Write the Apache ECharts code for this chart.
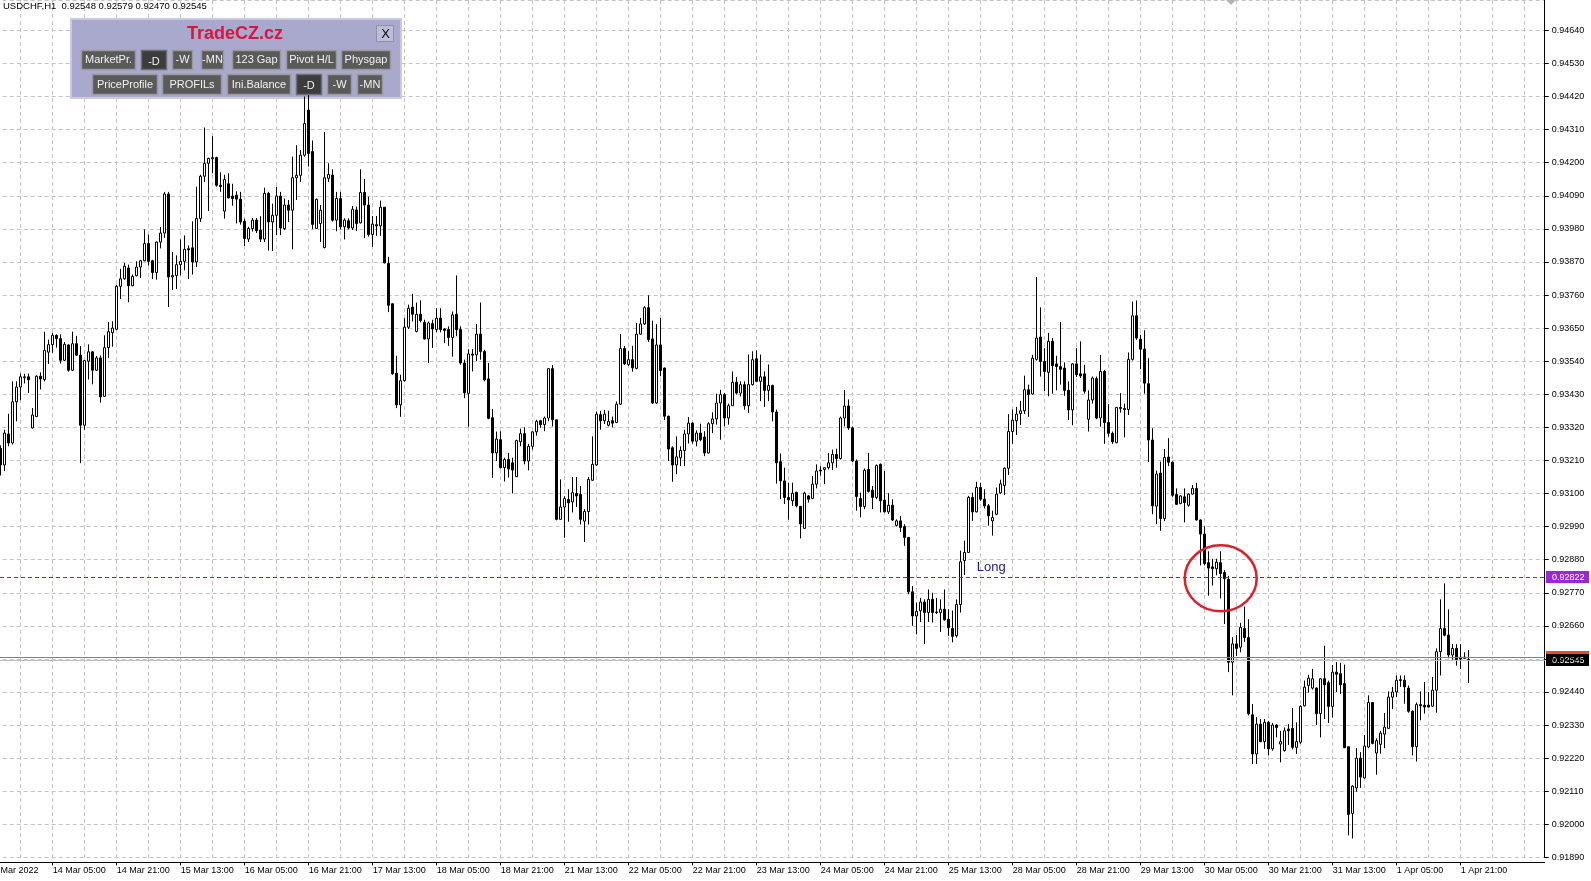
<!DOCTYPE html>
<html>
<head>
<meta charset="utf-8">
<title>USDCHF,H1</title>
<script src="https://cdn.jsdelivr.net/npm/echarts@6/dist/echarts.min.js"></script>
<style>
  html, body { margin: 0; padding: 0; background: #fff; }
  #chart { width: 1591px; height: 881px; }
</style>
</head>
<body>
<div id="chart"></div>
<script>
const FONT = '"Liberation Sans", Arial, sans-serif'

// trading days on screen, the first one starts at 13:00
const days = ['11 Mar', '14 Mar', '15 Mar', '16 Mar', '17 Mar', '18 Mar', '21 Mar', '22 Mar',
  '23 Mar', '24 Mar', '25 Mar', '28 Mar', '29 Mar', '30 Mar', '31 Mar', '1 Apr']
const firstHour = 13
const totalSlots = 390 // bars plus the empty chart shift on the right

// H1 candles, one line per day (first three bars are off screen)
const opens = [
  null, null, null, 0.93250, 0.93195, 0.93298, 0.93268, 0.93405, 0.93454, 0.93485, 0.93488,
  0.93318, 0.93356, 0.93490, 0.93479, 0.93570, 0.93595, 0.93626, 0.93615, 0.93543, 0.93594, 0.93510, 0.93598, 0.93560, 0.93327, 0.93540, 0.93571, 0.93510, 0.93551, 0.93423, 0.93585, 0.93635, 0.93646, 0.93789, 0.93814,
  0.93850, 0.93791, 0.93824, 0.93853, 0.93874, 0.93931, 0.93874, 0.93835, 0.93936, 0.93966, 0.94096, 0.93820, 0.93825, 0.93861, 0.93872, 0.93914, 0.93917, 0.93870, 0.94014, 0.94155, 0.94198, 0.94213, 0.94217, 0.94125,
  0.94039, 0.94130, 0.94089, 0.94092, 0.94079, 0.94005, 0.93946, 0.93981, 0.94009, 0.93976, 0.93946, 0.94098, 0.94003, 0.94025, 0.94089, 0.93981, 0.94059, 0.94042, 0.94150, 0.94158, 0.94225, 0.94375, 0.94237, 0.93981,
  0.93998, 0.93918, 0.94148, 0.94159, 0.94009, 0.94081, 0.93987, 0.94007, 0.93983, 0.94043, 0.94000, 0.94101, 0.94059, 0.93961, 0.93994, 0.93990, 0.94052, 0.93865, 0.93731, 0.93500, 0.93395, 0.93475, 0.93653, 0.93720,
  0.93639, 0.93696, 0.93669, 0.93614, 0.93665, 0.93645, 0.93683, 0.93647, 0.93645, 0.93619, 0.93696, 0.93645, 0.93534, 0.93433, 0.93564, 0.93561, 0.93630, 0.93572, 0.93481, 0.93352, 0.93235, 0.93279, 0.93186, 0.93213,
  0.93202, 0.93156, 0.93272, 0.93299, 0.93208, 0.93257, 0.93305, 0.93342, 0.93329, 0.93351, 0.93515, 0.93345, 0.93014, 0.93055, 0.93080, 0.93072, 0.93100, 0.93097, 0.93008, 0.93040, 0.93144, 0.93195, 0.93362, 0.93342,
  0.93327, 0.93342, 0.93336, 0.93397, 0.93582, 0.93529, 0.93545, 0.93516, 0.93630, 0.93664, 0.93718, 0.93614, 0.93401, 0.93594, 0.93517, 0.93357, 0.93252, 0.93195, 0.93219, 0.93243, 0.93298, 0.93334, 0.93274, 0.93301,
  0.93288, 0.93235, 0.93332, 0.93348, 0.93401, 0.93429, 0.93351, 0.93392, 0.93470, 0.93434, 0.93462, 0.93392, 0.93462, 0.93548, 0.93473, 0.93488, 0.93443, 0.93459, 0.93371, 0.93206, 0.93142, 0.93087, 0.93076, 0.93104,
  0.93057, 0.92984, 0.93092, 0.93084, 0.93131, 0.93178, 0.93180, 0.93186, 0.93202, 0.93230, 0.93216, 0.93351, 0.93391, 0.93318, 0.93208, 0.93083, 0.93057, 0.93180, 0.93111, 0.93087, 0.93197, 0.93078, 0.93039, 0.93061,
  0.92994, 0.93009, 0.92990, 0.92954, 0.92773, 0.92693, 0.92710, 0.92739, 0.92704, 0.92748, 0.92706, 0.92704, 0.92715, 0.92682, 0.92651, 0.92627, 0.92731, 0.92877, 0.92904, 0.93087, 0.93039, 0.93120, 0.93081, 0.93059,
  0.93009, 0.93031, 0.93102, 0.93127, 0.93184, 0.93306, 0.93342, 0.93366, 0.93375, 0.93445, 0.93431, 0.93546, 0.93620, 0.93539, 0.93503, 0.93606, 0.93531, 0.93522, 0.93517, 0.93443, 0.93378, 0.93531, 0.93498, 0.93498,
  0.93347, 0.93411, 0.93482, 0.93351, 0.93506, 0.93336, 0.93300, 0.93269, 0.93386, 0.93383, 0.93379, 0.93546, 0.93691, 0.93613, 0.93580, 0.93465, 0.93278, 0.93058, 0.93168, 0.93017, 0.93221, 0.93204, 0.93097, 0.93067,
  0.93089, 0.93061, 0.93098, 0.93117, 0.93012, 0.92965, 0.92870, 0.92856, 0.92850, 0.92870, 0.92837, 0.92815, 0.92539, 0.92600, 0.92589, 0.92651, 0.92621, 0.92364, 0.92234, 0.92333, 0.92275, 0.92339, 0.92251, 0.92330,
  0.92267, 0.92245, 0.92317, 0.92319, 0.92256, 0.92273, 0.92394, 0.92462, 0.92453, 0.92453, 0.92368, 0.92484, 0.92471, 0.92392, 0.92506, 0.92501, 0.92468, 0.92258, 0.92036, 0.92121, 0.92220, 0.92154, 0.92257, 0.92405,
  0.92237, 0.92266, 0.92300, 0.92319, 0.92423, 0.92440, 0.92481, 0.92479, 0.92453, 0.92376, 0.92258, 0.92398, 0.92396, 0.92396, 0.92393, 0.92446, 0.92574, 0.92651, 0.92629, 0.92563, 0.92585, 0.92556, 0.92556, 0.92548
]
const highs = [
  null, null, null, 0.93260, 0.93312, 0.93365, 0.93473, 0.93473, 0.93499, 0.93498, 0.93499,
  0.93384, 0.93493, 0.93503, 0.93638, 0.93612, 0.93634, 0.93629, 0.93629, 0.93604, 0.93596, 0.93638, 0.93624, 0.93590, 0.93544, 0.93596, 0.93573, 0.93557, 0.93559, 0.93626, 0.93670, 0.93673, 0.93794, 0.93847, 0.93867,
  0.93861, 0.93828, 0.93872, 0.93877, 0.93978, 0.93961, 0.93877, 0.93938, 0.93986, 0.94103, 0.94103, 0.93903, 0.93892, 0.93945, 0.93958, 0.93925, 0.94005, 0.94120, 0.94160, 0.94317, 0.94217, 0.94288, 0.94220, 0.94168,
  0.94160, 0.94165, 0.94130, 0.94105, 0.94103, 0.94014, 0.93987, 0.94016, 0.94016, 0.94022, 0.94117, 0.94103, 0.94064, 0.94120, 0.94103, 0.94081, 0.94076, 0.94220, 0.94258, 0.94242, 0.94420, 0.94425, 0.94274, 0.94081,
  0.94059, 0.94302, 0.94198, 0.94178, 0.94103, 0.94103, 0.94015, 0.94015, 0.94056, 0.94054, 0.94178, 0.94146, 0.94087, 0.94023, 0.94023, 0.94074, 0.94052, 0.93887, 0.93731, 0.93558, 0.93495, 0.93683, 0.93728, 0.93764,
  0.93735, 0.93742, 0.93678, 0.93672, 0.93678, 0.93716, 0.93716, 0.93650, 0.93656, 0.93705, 0.93825, 0.93656, 0.93545, 0.93580, 0.93580, 0.93664, 0.93735, 0.93578, 0.93534, 0.93381, 0.93306, 0.93307, 0.93219, 0.93235,
  0.93219, 0.93279, 0.93316, 0.93320, 0.93265, 0.93307, 0.93345, 0.93345, 0.93356, 0.93517, 0.93527, 0.93345, 0.93147, 0.93091, 0.93114, 0.93155, 0.93155, 0.93125, 0.93048, 0.93155, 0.93290, 0.93373, 0.93375, 0.93378,
  0.93375, 0.93356, 0.93406, 0.93630, 0.93591, 0.93573, 0.93591, 0.93667, 0.93684, 0.93723, 0.93759, 0.93675, 0.93663, 0.93684, 0.93519, 0.93359, 0.93257, 0.93290, 0.93257, 0.93312, 0.93354, 0.93337, 0.93310, 0.93332,
  0.93307, 0.93337, 0.93370, 0.93432, 0.93445, 0.93434, 0.93399, 0.93506, 0.93487, 0.93473, 0.93473, 0.93562, 0.93573, 0.93576, 0.93562, 0.93506, 0.93529, 0.93462, 0.93379, 0.93233, 0.93186, 0.93136, 0.93136, 0.93106,
  0.93059, 0.93106, 0.93095, 0.93158, 0.93197, 0.93191, 0.93186, 0.93235, 0.93246, 0.93249, 0.93356, 0.93444, 0.93413, 0.93323, 0.93213, 0.93103, 0.93183, 0.93235, 0.93125, 0.93197, 0.93200, 0.93175, 0.93101, 0.93081,
  0.93014, 0.93025, 0.92998, 0.92954, 0.92792, 0.92737, 0.92753, 0.92748, 0.92781, 0.92770, 0.92753, 0.92748, 0.92781, 0.92715, 0.92711, 0.92748, 0.92910, 0.92943, 0.93092, 0.93103, 0.93139, 0.93136, 0.93114, 0.93065,
  0.93043, 0.93120, 0.93146, 0.93187, 0.93364, 0.93379, 0.93388, 0.93408, 0.93492, 0.93462, 0.93561, 0.93820, 0.93719, 0.93583, 0.93634, 0.93617, 0.93558, 0.93670, 0.93536, 0.93473, 0.93533, 0.93583, 0.93606, 0.93528,
  0.93443, 0.93489, 0.93489, 0.93561, 0.93511, 0.93397, 0.93306, 0.93388, 0.93434, 0.93399, 0.93569, 0.93738, 0.93742, 0.93628, 0.93643, 0.93550, 0.93317, 0.93176, 0.93206, 0.93248, 0.93284, 0.93207, 0.93117, 0.93094,
  0.93117, 0.93100, 0.93128, 0.93136, 0.93014, 0.92991, 0.92908, 0.92883, 0.92883, 0.92908, 0.92845, 0.92826, 0.92622, 0.92630, 0.92670, 0.92724, 0.92682, 0.92400, 0.92356, 0.92350, 0.92350, 0.92344, 0.92337, 0.92333,
  0.92311, 0.92322, 0.92333, 0.92387, 0.92339, 0.92396, 0.92478, 0.92497, 0.92517, 0.92456, 0.92486, 0.92594, 0.92478, 0.92530, 0.92539, 0.92537, 0.92531, 0.92258, 0.92130, 0.92253, 0.92240, 0.92297, 0.92429, 0.92405,
  0.92286, 0.92311, 0.92370, 0.92442, 0.92457, 0.92495, 0.92495, 0.92495, 0.92462, 0.92379, 0.92405, 0.92442, 0.92473, 0.92440, 0.92490, 0.92585, 0.92748, 0.92801, 0.92715, 0.92599, 0.92599, 0.92599, 0.92572, 0.92579
]
const lows = [
  null, null, null, 0.93160, 0.93175, 0.93257, 0.93263, 0.93340, 0.93410, 0.93466, 0.93434,
  0.93316, 0.93354, 0.93446, 0.93473, 0.93531, 0.93568, 0.93585, 0.93532, 0.93540, 0.93505, 0.93507, 0.93557, 0.93201, 0.93312, 0.93479, 0.93463, 0.93507, 0.93402, 0.93421, 0.93551, 0.93588, 0.93644, 0.93747, 0.93811,
  0.93736, 0.93789, 0.93822, 0.93817, 0.93872, 0.93858, 0.93813, 0.93811, 0.93915, 0.93950, 0.93720, 0.93777, 0.93780, 0.93825, 0.93842, 0.93813, 0.93828, 0.93853, 0.94003, 0.94136, 0.94039, 0.94165, 0.94120, 0.94103,
  0.94014, 0.94081, 0.94057, 0.93998, 0.93994, 0.93923, 0.93936, 0.93971, 0.93966, 0.93936, 0.93936, 0.93908, 0.93906, 0.93959, 0.93959, 0.93976, 0.94003, 0.93912, 0.94076, 0.94136, 0.94220, 0.94187, 0.93979, 0.93981,
  0.93936, 0.93915, 0.94136, 0.94004, 0.93972, 0.93978, 0.93945, 0.93978, 0.93976, 0.93973, 0.93998, 0.93949, 0.93954, 0.93920, 0.93957, 0.93957, 0.93865, 0.93703, 0.93495, 0.93384, 0.93355, 0.93473, 0.93647, 0.93672,
  0.93636, 0.93669, 0.93612, 0.93534, 0.93584, 0.93636, 0.93636, 0.93600, 0.93591, 0.93555, 0.93623, 0.93528, 0.93417, 0.93322, 0.93506, 0.93540, 0.93545, 0.93473, 0.93347, 0.93152, 0.93208, 0.93183, 0.93140, 0.93153,
  0.93100, 0.93155, 0.93257, 0.93197, 0.93177, 0.93246, 0.93292, 0.93318, 0.93307, 0.93340, 0.93323, 0.93011, 0.93014, 0.92953, 0.93006, 0.93037, 0.93055, 0.92997, 0.92939, 0.92997, 0.93142, 0.93192, 0.93312, 0.93331,
  0.93323, 0.93320, 0.93334, 0.93395, 0.93527, 0.93524, 0.93505, 0.93513, 0.93628, 0.93660, 0.93604, 0.93398, 0.93398, 0.93490, 0.93344, 0.93208, 0.93139, 0.93164, 0.93191, 0.93191, 0.93266, 0.93266, 0.93257, 0.93274,
  0.93224, 0.93233, 0.93301, 0.93329, 0.93279, 0.93323, 0.93329, 0.93392, 0.93429, 0.93423, 0.93379, 0.93368, 0.93459, 0.93470, 0.93407, 0.93388, 0.93407, 0.93340, 0.93133, 0.93081, 0.93065, 0.93013, 0.93059, 0.93054,
  0.92951, 0.92982, 0.93070, 0.93081, 0.93117, 0.93159, 0.93131, 0.93180, 0.93178, 0.93186, 0.93213, 0.93323, 0.93312, 0.93205, 0.93043, 0.93021, 0.93048, 0.93103, 0.93048, 0.93081, 0.93037, 0.93037, 0.93032, 0.93009,
  0.92990, 0.92972, 0.92926, 0.92765, 0.92660, 0.92632, 0.92673, 0.92599, 0.92673, 0.92671, 0.92699, 0.92640, 0.92677, 0.92627, 0.92605, 0.92621, 0.92704, 0.92829, 0.92904, 0.93009, 0.93037, 0.93076, 0.93050, 0.92993,
  0.92960, 0.93028, 0.93099, 0.93095, 0.93162, 0.93265, 0.93295, 0.93328, 0.93364, 0.93355, 0.93429, 0.93542, 0.93489, 0.93440, 0.93423, 0.93432, 0.93443, 0.93462, 0.93425, 0.93344, 0.93327, 0.93487, 0.93484, 0.93432,
  0.93306, 0.93399, 0.93347, 0.93322, 0.93265, 0.93289, 0.93265, 0.93267, 0.93369, 0.93287, 0.93361, 0.93542, 0.93611, 0.93513, 0.93432, 0.93205, 0.93031, 0.92998, 0.92976, 0.93008, 0.93191, 0.93089, 0.93062, 0.93064,
  0.93004, 0.93056, 0.93097, 0.93010, 0.92861, 0.92861, 0.92760, 0.92794, 0.92828, 0.92751, 0.92666, 0.92506, 0.92429, 0.92560, 0.92572, 0.92607, 0.92362, 0.92201, 0.92201, 0.92273, 0.92251, 0.92229, 0.92245, 0.92289,
  0.92206, 0.92242, 0.92264, 0.92249, 0.92234, 0.92267, 0.92392, 0.92438, 0.92448, 0.92330, 0.92289, 0.92350, 0.92337, 0.92355, 0.92440, 0.92434, 0.92253, 0.91963, 0.91953, 0.92108, 0.92121, 0.92152, 0.92253, 0.92266,
  0.92165, 0.92235, 0.92253, 0.92317, 0.92383, 0.92423, 0.92457, 0.92401, 0.92371, 0.92229, 0.92209, 0.92346, 0.92368, 0.92390, 0.92390, 0.92371, 0.92495, 0.92625, 0.92552, 0.92548, 0.92528, 0.92517, 0.92550, 0.92470
]
const closes = [
  null, null, null, 0.93195, 0.93301, 0.93268, 0.93405, 0.93454, 0.93488, 0.93488, 0.93478,
  0.93361, 0.93490, 0.93481, 0.93576, 0.93595, 0.93626, 0.93615, 0.93543, 0.93596, 0.93510, 0.93598, 0.93560, 0.93327, 0.93542, 0.93571, 0.93510, 0.93551, 0.93421, 0.93585, 0.93638, 0.93650, 0.93789, 0.93814, 0.93856,
  0.93791, 0.93822, 0.93853, 0.93874, 0.93931, 0.93872, 0.93835, 0.93936, 0.93966, 0.94096, 0.93820, 0.93825, 0.93861, 0.93872, 0.93912, 0.93910, 0.93870, 0.94014, 0.94155, 0.94198, 0.94214, 0.94217, 0.94125, 0.94121,
  0.94144, 0.94083, 0.94081, 0.94079, 0.94003, 0.93948, 0.93981, 0.94009, 0.93974, 0.93946, 0.94098, 0.94003, 0.94025, 0.94089, 0.93983, 0.94059, 0.94042, 0.94150, 0.94158, 0.94225, 0.94330, 0.94231, 0.93995, 0.94078,
  0.94042, 0.94150, 0.94161, 0.94009, 0.94081, 0.93987, 0.94009, 0.93983, 0.94045, 0.93998, 0.94101, 0.94059, 0.93961, 0.93996, 0.93990, 0.94052, 0.93867, 0.93726, 0.93498, 0.93395, 0.93475, 0.93653, 0.93716, 0.93696,
  0.93696, 0.93675, 0.93614, 0.93667, 0.93647, 0.93683, 0.93645, 0.93642, 0.93619, 0.93694, 0.93645, 0.93534, 0.93435, 0.93564, 0.93560, 0.93630, 0.93572, 0.93478, 0.93350, 0.93235, 0.93281, 0.93186, 0.93213, 0.93182,
  0.93178, 0.93276, 0.93299, 0.93208, 0.93257, 0.93305, 0.93340, 0.93329, 0.93351, 0.93515, 0.93345, 0.93014, 0.93055, 0.93083, 0.93069, 0.93103, 0.93092, 0.93014, 0.93040, 0.93147, 0.93197, 0.93364, 0.93342, 0.93364,
  0.93340, 0.93334, 0.93397, 0.93582, 0.93531, 0.93545, 0.93518, 0.93630, 0.93664, 0.93718, 0.93612, 0.93401, 0.93594, 0.93509, 0.93357, 0.93248, 0.93195, 0.93222, 0.93243, 0.93298, 0.93334, 0.93274, 0.93301, 0.93279,
  0.93235, 0.93332, 0.93348, 0.93401, 0.93429, 0.93351, 0.93392, 0.93470, 0.93434, 0.93462, 0.93392, 0.93462, 0.93545, 0.93473, 0.93488, 0.93443, 0.93459, 0.93371, 0.93202, 0.93142, 0.93087, 0.93079, 0.93101, 0.93059,
  0.92999, 0.93101, 0.93081, 0.93131, 0.93175, 0.93175, 0.93186, 0.93202, 0.93230, 0.93216, 0.93351, 0.93391, 0.93318, 0.93208, 0.93090, 0.93057, 0.93177, 0.93107, 0.93087, 0.93193, 0.93076, 0.93039, 0.93061, 0.93012,
  0.93009, 0.92987, 0.92954, 0.92773, 0.92693, 0.92708, 0.92739, 0.92704, 0.92748, 0.92704, 0.92704, 0.92715, 0.92680, 0.92654, 0.92625, 0.92731, 0.92873, 0.92904, 0.93087, 0.93039, 0.93120, 0.93081, 0.93059, 0.93026,
  0.93020, 0.93098, 0.93132, 0.93184, 0.93306, 0.93344, 0.93364, 0.93375, 0.93445, 0.93429, 0.93550, 0.93617, 0.93539, 0.93506, 0.93606, 0.93525, 0.93522, 0.93513, 0.93443, 0.93378, 0.93531, 0.93495, 0.93491, 0.93440,
  0.93411, 0.93484, 0.93351, 0.93506, 0.93336, 0.93300, 0.93272, 0.93386, 0.93383, 0.93379, 0.93546, 0.93691, 0.93617, 0.93580, 0.93467, 0.93278, 0.93059, 0.93165, 0.93017, 0.93220, 0.93204, 0.93094, 0.93064, 0.93092,
  0.93070, 0.93098, 0.93117, 0.93012, 0.92965, 0.92867, 0.92852, 0.92850, 0.92872, 0.92834, 0.92817, 0.92539, 0.92600, 0.92585, 0.92655, 0.92621, 0.92368, 0.92234, 0.92333, 0.92275, 0.92339, 0.92251, 0.92330, 0.92322,
  0.92275, 0.92311, 0.92311, 0.92256, 0.92275, 0.92392, 0.92456, 0.92486, 0.92484, 0.92368, 0.92484, 0.92464, 0.92392, 0.92506, 0.92499, 0.92464, 0.92255, 0.92033, 0.92127, 0.92220, 0.92157, 0.92260, 0.92405, 0.92269,
  0.92278, 0.92303, 0.92323, 0.92423, 0.92440, 0.92479, 0.92478, 0.92457, 0.92376, 0.92258, 0.92398, 0.92394, 0.92390, 0.92390, 0.92446, 0.92574, 0.92651, 0.92629, 0.92563, 0.92585, 0.92548, 0.92550, 0.92552, 0.92545
]

// horizontal lines and their axis tags
const entryLevel = 0.92822
const askLevel = 0.92556
const bidLevel = 0.92545
const headerText = 'USDCHF,H1  0.92548 0.92579 0.92470 0.92545'

const categories = []
days.forEach((d, di) => {
  for (let h = di === 0 ? firstHour : 0; h < 24; h++) {
    categories.push(d + ' ' + String(h).padStart(2, '0') + ':00')
  }
})
const lastBar = categories.length - 1
while (categories.length < totalSlots) categories.push('')

const candles = opens.map((o, i) => o == null ? '-' : [o, closes[i], lows[i], highs[i]])

const chart = echarts.init(document.getElementById('chart'), null, { renderer: 'canvas' })

const gridLine = { color: '#c4c4c4', type: [4, 3], width: 1 }

const option = {
  animation: false,
  backgroundColor: '#fff',
  grid: {
    left: -11.3,
    right: 46.3,
    top: 0,
    bottom: 23.6,
    containLabel: false,
    outerBoundsMode: 'none'
  },
  xAxis: {
    type: 'category',
    data: categories,
    boundaryGap: false,
    offset: 5,
    axisLine: { lineStyle: { color: '#000', width: 1 } },
    axisTick: {
      show: true,
      length: 3,
      interval: (idx) => idx % 16 === 0 && idx <= lastBar,
      lineStyle: { color: '#000' }
    },
    axisLabel: {
      interval: (idx) => idx % 16 === 0 && idx <= lastBar,
      formatter: (value, idx) => idx === 0 ? '11 Mar 2022' : value,
      align: 'left',
      margin: 4,
      fontSize: 9,
      fontFamily: FONT,
      color: '#000',
      hideOverlap: false
    },
    splitLine: {
      show: true,
      interval: (idx) => idx % 8 === 0,
      lineStyle: gridLine
    }
  },
  yAxis: {
    type: 'value',
    position: 'right',
    min: 0.91890,
    max: 0.94741,
    interval: 0.0011,
    axisLine: { show: true, lineStyle: { color: '#000', width: 1 } },
    axisTick: { show: true, length: 4, lineStyle: { color: '#000' } },
    axisLabel: {
      margin: 7,
      fontSize: 9,
      fontFamily: FONT,
      color: '#000',
      showMaxLabel: false,
      formatter: (v) => v.toFixed(5)
    },
    splitLine: { show: true, lineStyle: gridLine }
  },
  series: [
    {
      name: 'USDCHF',
      type: 'candlestick',
      data: candles,
      barWidth: 2,
      itemStyle: {
        color: '#fff',
        color0: '#000',
        borderColor: '#000',
        borderColor0: '#000',
        borderColorDoji: '#000',
        borderWidth: 1
      }
    }
  ]
}

chart.setOption(option)

// overlay: price lines and tags, annotations and the indicator panel
const py = (p) => chart.convertToPixel({ yAxisIndex: 0 }, p)
const px = (i) => chart.convertToPixel({ xAxisIndex: 0 }, i)
const plotRight = px(totalSlots - 1)

const priceLine = (price, color, dash) => ({
  type: 'line', z: 110,
  shape: { x1: 0, y1: Math.round(py(price)) + 0.5, x2: plotRight, y2: Math.round(py(price)) + 0.5 },
  style: { stroke: color, lineWidth: 1, lineDash: dash }
})

const priceTag = (price, bg) => ({
  type: 'group',
  z: 120,
  children: [
    { type: 'rect', shape: { x: 1546, y: Math.round(py(price)) - 6, width: 43, height: 12 }, style: { fill: bg } },
    {
      type: 'text', x: 1552, y: py(price),
      style: { text: price.toFixed(5), fill: '#fff', fontSize: 9, fontFamily: FONT, verticalAlign: 'middle', textVerticalAlign: 'middle' }
    }
  ]
})

const panelButtons = [
  { text: 'MarketPr.', x: 81, y: 50, w: 54, h: 19 },
  { text: '-D', x: 141, y: 50, w: 25, h: 19, down: true },
  { text: '-W', x: 172, y: 50, w: 20, h: 19 },
  { text: '-MN', x: 201, y: 50, w: 22, h: 19 },
  { text: '123 Gap', x: 232, y: 50, w: 48, h: 19 },
  { text: 'Pivot H/L', x: 286, y: 50, w: 50, h: 19 },
  { text: 'Physgap', x: 341, y: 50, w: 49, h: 19 },
  { text: 'PriceProfile', x: 92, y: 74, w: 65, h: 20 },
  { text: 'PROFILs', x: 162, y: 74, w: 59, h: 20 },
  { text: 'Ini.Balance', x: 227, y: 74, w: 63, h: 20 },
  { text: '-D', x: 296, y: 74, w: 25, h: 20, down: true },
  { text: '-W', x: 327, y: 74, w: 24, h: 20 },
  { text: '-MN', x: 357, y: 74, w: 25, h: 20 }
]

const buttonEls = []
panelButtons.forEach(b => {
  buttonEls.push({
    type: 'rect',
    shape: { x: b.x + 0.5, y: b.y + 0.5, width: b.w, height: b.h },
    style: { fill: b.down ? '#3c3c3c' : '#5a5a5a', stroke: b.down ? '#6e6e6e' : '#9a9a9a', lineWidth: 1.5 }
  })
  buttonEls.push({
    type: 'text',
    x: b.x + b.w / 2 + 0.5,
    y: b.y + b.h / 2 + (b.down ? 2 : 0.5),
    style: {
      text: b.text, fill: '#f2f2f2', fontSize: 11, fontFamily: FONT,
      align: 'center', verticalAlign: 'middle', textAlign: 'center', textVerticalAlign: 'middle'
    }
  })
})

chart.setOption({
  graphic: [
    priceLine(bidLevel, '#C0C0C0', null),
    priceLine(askLevel, '#D2691E', null),
    priceLine(entryLevel, '#7E1CB8', [4, 3]),
    {
      type: 'text', x: 3, y: 1, z: 120,
      style: { text: headerText, fill: '#000', fontSize: 9.5, fontFamily: FONT }
    },
    {
      type: 'polygon', z: 120,
      shape: { points: [[1226, 0], [1236, 0], [1231, 5]] },
      style: { fill: '#b4b4b4' }
    },
    {
      type: 'text', x: px(247), y: py(0.92855), z: 120,
      style: { text: 'Long', fill: '#1c1c78', fontSize: 13, fontFamily: FONT, verticalAlign: 'middle', textVerticalAlign: 'middle' }
    },
    {
      type: 'ellipse', z: 120,
      shape: { cx: px(307.5), cy: py(0.92818), rx: 36, ry: 33 },
      style: { fill: 'none', stroke: '#DC1F2A', lineWidth: 2.5 }
    },
    priceTag(entryLevel, '#9B27D4'),
    priceTag(askLevel, '#E0531B'),
    priceTag(bidLevel, '#000'),
    {
      type: 'group', z: 150,
      children: [
        {
          type: 'rect',
          shape: { x: 71, y: 19, width: 330, height: 79 },
          style: { fill: '#A9A9CE', stroke: '#C9C9E2', lineWidth: 2 }
        },
        {
          type: 'text', x: 235, y: 34,
          style: {
            text: 'TradeCZ.cz', fill: '#DC143C', fontSize: 18, fontWeight: 'bold', fontFamily: FONT,
            align: 'center', verticalAlign: 'middle', textAlign: 'center', textVerticalAlign: 'middle'
          }
        },
        {
          type: 'rect',
          shape: { x: 376.5, y: 25.5, width: 17, height: 16 },
          style: { fill: '#BDBDD8', stroke: '#8E8EAE', lineWidth: 1 }
        },
        {
          type: 'text', x: 385.5, y: 34,
          style: {
            text: 'X', fill: '#000', fontSize: 13, fontFamily: FONT,
            align: 'center', verticalAlign: 'middle', textAlign: 'center', textVerticalAlign: 'middle'
          }
        }
      ].concat(buttonEls)
    }
  ]
})
</script>
</body>
</html>
